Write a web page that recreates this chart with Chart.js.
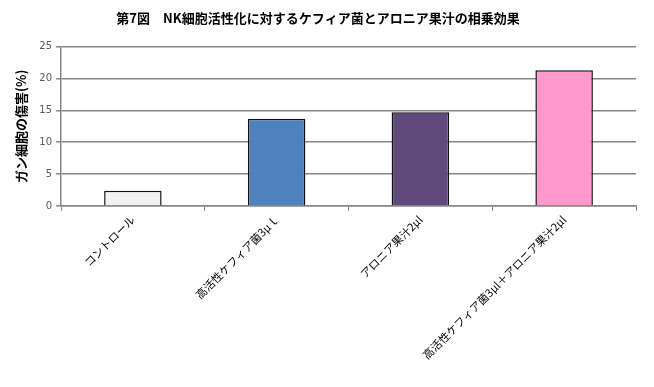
<!DOCTYPE html>
<html>
<head>
<meta charset="utf-8">
<script src="https://cdn.jsdelivr.net/npm/chart.js@4/dist/chart.umd.min.js"></script>
<style>
  html,body{margin:0;padding:0;background:#fff;}
  #wrap{width:654px;height:387px;position:relative;}
</style>
</head>
<body>
<div id="wrap"><canvas id="c"></canvas></div>
<script>
const categories=["コントロール","高活性ケフィア菌3μｌ","アロニア果汁2μl","高活性ケフィア菌3μl＋アロニア果汁2μl"];
const values=[2.4,13.7,14.7,21.3];
const barColors=["#f2f2f2","#4f81bd","#604a7b","#ff99cc"];
const yTicks=[0,5,10,15,20,25];

const JP="'Noto Sans CJK JP','Noto Sans',sans-serif";

new Chart(document.getElementById("c"),{
  type:"bar",
  data:{
    labels:categories,
    datasets:[{
      data:values,
      backgroundColor:barColors,
      borderColor:"#111",
      borderWidth:1.5,
      borderSkipped:"bottom",
      categoryPercentage:1,
      barPercentage:0.4
    }]
  },
  options:{
    responsive:true,
    maintainAspectRatio:false,
    animation:false,
    layout:{padding:{left:0,right:18,top:0,bottom:0}},
    plugins:{
      legend:{display:false},
      tooltip:{enabled:false},
      title:{
        display:true,
        text:"第7図　NK細胞活性化に対するケフィア菌とアロニア果汁の相乗効果",
        color:"#000",
        font:{family:JP,size:13,weight:"bold"},
        padding:{top:10,bottom:21}
      }
    },
    scales:{
      x:{
        grid:{offset:true,drawOnChartArea:false,drawTicks:true,tickLength:5,color:"#868686"},
        border:{color:"#868686",width:1.5},
        ticks:{
          color:"#000",
          font:{family:JP,size:11},
          maxRotation:45,minRotation:45,
          autoSkip:false,
          padding:2
        },
        afterFit:(s)=>{s.height=181;}
      },
      y:{
        min:0,max:25,
        afterBuildTicks:(s)=>{s.ticks=yTicks.map(v=>({value:v}));},
        grid:{color:"#868686",lineWidth:1.5,tickLength:5},
        border:{color:"#868686",width:1.5},
        ticks:{color:"#595959",font:{family:"'DejaVu Sans',sans-serif",size:10},padding:4},
        title:{
          display:true,
          text:"ガン細胞の傷害(%)",
          color:"#000",
          font:{family:JP,size:13,weight:"bold"},
          padding:{top:13,bottom:0}
        },
        afterFit:(s)=>{s.width=61;}
      }
    }
  }
});
</script>
</body>
</html>
